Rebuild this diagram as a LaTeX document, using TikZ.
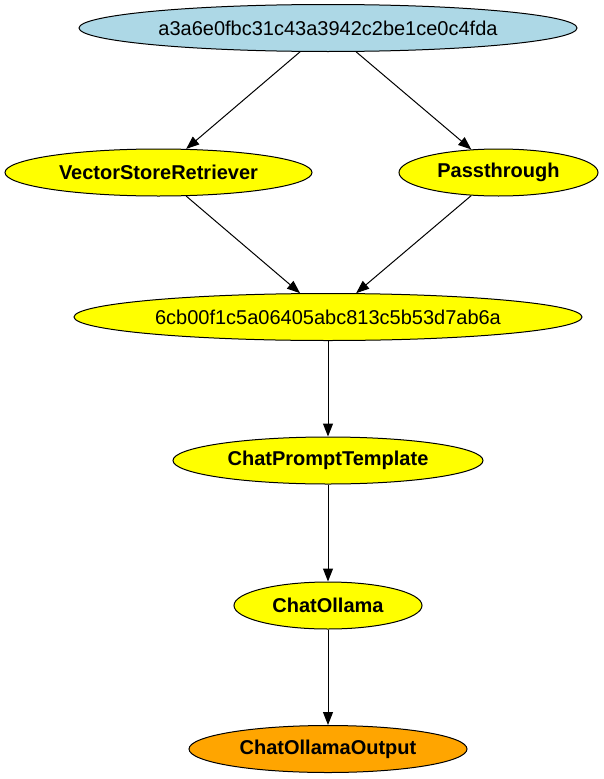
\documentclass[tikz,border=0pt]{standalone}
\usepackage{fontspec}
\setmainfont{Liberation Sans}
\usetikzlibrary{shapes.geometric,arrows.meta}
\definecolor{lblue}{HTML}{ADD8E6}
\definecolor{gvyellow}{HTML}{FFFF00}
\definecolor{gvorange}{HTML}{FFA500}
\begin{document}
\begin{tikzpicture}[x=1pt,y=-1pt,
  gv/.style={ellipse,draw=black,line width=1pt,inner sep=0pt,font=\fontsize{20pt}{23pt}\selectfont,minimum height=47pt},
  yel/.style={gv,fill=gvyellow},
  edge/.style={draw=black,line width=1pt,-{Triangle[length=13pt,width=10pt]}}]
\useasboundingbox (0,0) rectangle (604,779);
\node[gv,fill=lblue,minimum width=498pt] (top) at (328,28) {a3a6e0fbc31c43a3942c2be1ce0c4fda};
\node[yel,minimum width=307pt] (vsr) at (158.5,172.5) {\bfseries VectorStoreRetriever};
\node[yel,minimum width=199pt] (pass) at (498.5,172.5) {\bfseries Passthrough};
\node[yel,minimum width=508pt] (mid) at (328,317) {6cb00f1c5a06405abc813c5b53d7ab6a};
\node[yel,minimum width=310pt] (cpt) at (328,460.5) {\bfseries ChatPromptTemplate};
\node[yel,minimum width=188pt] (co) at (328,605.5) {\bfseries ChatOllama};
\node[gv,fill=gvorange,minimum width=278pt] (coo) at (328,749) {\bfseries ChatOllamaOutput};
\draw[edge] (top) -- (vsr);
\draw[edge] (top) -- (pass);
\draw[edge] (vsr) -- (mid);
\draw[edge] (pass) -- (mid);
\draw[edge] (mid) -- (cpt);
\draw[edge] (cpt) -- (co);
\draw[edge] (co) -- (coo);
\end{tikzpicture}
\end{document}
